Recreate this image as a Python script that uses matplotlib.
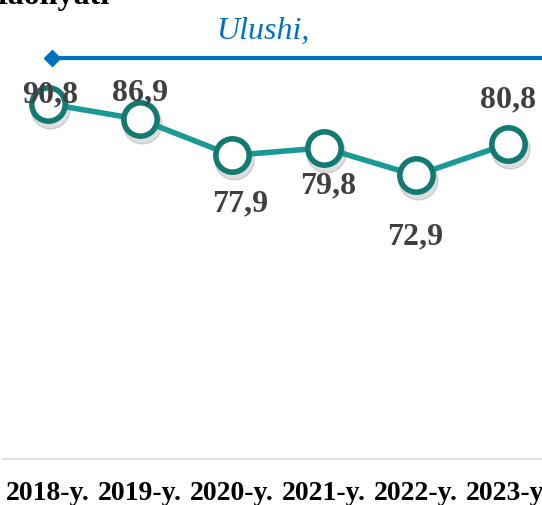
import matplotlib
matplotlib.use("Agg")
from matplotlib import pyplot as plt
from matplotlib.lines import Line2D
from matplotlib import transforms

years = ["2018-y.", "2019-y.", "2020-y.", "2021-y.", "2022-y.", "2023-y."]
share = [90.8, 86.9, 77.9, 79.8, 72.9, 80.8]
value_labels = ["90,8", "86,9", "77,9", "79,8", "72,9", "80,8"]
series_name = "Ulushi,"
title_tail = "faoliyati"

# label placement relative to each point, in pixels (x, y)
label_offsets = [(2, 10), (0, 27), (8, -48), (4, -37), (-1, -61), (0, 45)]

LINE_COLOR = "#1a9a94"
EDGE_COLOR = "#137a72"
LABEL_COLOR = "#404040"
BLUE = "#0070c0"

plt.rcParams["font.family"] = ["Liberation Serif", "DejaVu Serif"]

W, H = 542, 506
fig = plt.figure(figsize=(W / 100, H / 100), dpi=100)
ax = fig.add_axes([3 / W, (H - 460) / H, 539 / W, 460 / H])

x = list(range(len(years)))

# soft shadow under the markers
shadow = transforms.offset_copy(ax.transData, fig=fig, x=2, y=-5, units="dots")
ax.plot(x, share, linestyle="none", marker="o", markersize=28,
        color="#000000", alpha=0.13, transform=shadow, zorder=1)

ax.plot(x, share, color=LINE_COLOR, linewidth=4, marker="o",
        markersize=24, markerfacecolor="white", markeredgecolor=EDGE_COLOR,
        markeredgewidth=4, zorder=3)

for xi, yi, lab, (dx, dy) in zip(x, share, value_labels, label_offsets):
    ax.annotate(lab, (xi, yi), xytext=(dx, dy), textcoords="offset pixels",
                ha="center", va="center", fontsize=23, fontweight="bold",
                color=LABEL_COLOR, zorder=4)

ax.set_ylim(2, 117)
ax.set_xlim(-0.489, 5.37)
ax.set_xticks(x)
ax.set_xticklabels(years, fontsize=20, fontweight="bold", color="black")
ax.tick_params(axis="x", length=0, pad=15)
ax.set_yticks([])
for side in ["top", "left", "right"]:
    ax.spines[side].set_visible(False)
ax.spines["bottom"].set_color("#d9d9d9")
ax.spines["bottom"].set_linewidth(1.2)
ax.patch.set_alpha(0)

# legend row: diamond + line, series name above
fig.add_artist(Line2D([52 / W, 1.0], [1 - 59 / H, 1 - 59 / H], color=BLUE,
                      linewidth=3, transform=fig.transFigure))
fig.add_artist(Line2D([52 / W], [1 - 59 / H], color=BLUE, marker="D",
                      markersize=8, linestyle="none", transform=fig.transFigure))
fig.text(263 / W, 1 - 31 / H, series_name, ha="center", va="center",
         fontsize=23, fontstyle="italic", color=BLUE)

# cut-off title line at the very top
fig.text(-2 / W, 1 - 4 / H, title_tail, ha="left", va="baseline",
         fontsize=23, fontweight="bold", color="black")

fig.savefig("out.png", dpi=100)
